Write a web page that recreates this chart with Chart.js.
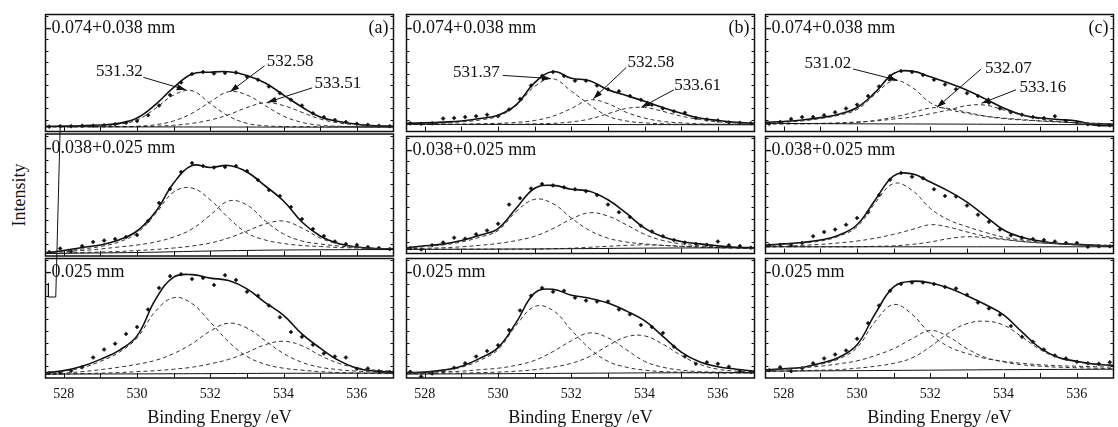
<!DOCTYPE html>
<html>
<head>
<meta charset="utf-8">
<script src="https://cdn.jsdelivr.net/npm/chart.js@4.4.1/dist/chart.umd.min.js"></script>
<style>
  body { margin: 0; background: #fff; width: 1118px; height: 427px; overflow: hidden; position: relative; }
  canvas { position: absolute; }
  #ylabel { position: absolute; left: 19px; top: 195px; transform: translate(-50%, -50%) rotate(-90deg);
    font: 18px "Liberation Serif", serif; color: #111; white-space: nowrap; }
</style>
</head>
<body>
<div id="ylabel">Intensity</div>
<script>
// energies shared by every panel
const curveEnergy = [527.5, 528, 528.5, 529, 529.5, 530, 530.5, 531, 531.5, 532, 532.5, 533, 533.5, 534, 534.5, 535, 535.5, 536, 536.5, 537];
const dotEnergy = [527.6, 527.9, 528.2, 528.5, 528.8, 529.1, 529.4, 529.7, 530.0, 530.3, 530.6, 530.9, 531.2, 531.5, 531.8, 532.1,
  532.4, 532.7, 533.0, 533.3, 533.6, 533.9, 534.2, 534.5, 534.8, 535.1, 535.4, 535.7, 536.0, 536.3, 536.6, 536.9];
const baseEnergy = [527.5, 530, 532, 534, 537];
const tickEnergies = [528, 530, 532, 534, 536];
const minorEnergies = [528, 529, 530, 531, 532, 533, 534, 535, 536];

const rowLabels = ['-0.074+0.038 mm', '-0.038+0.025 mm', '-0.025 mm'];
const panelLetters = ['(a)', '(b)', '(c)'];
const peakLabels = [['531.32', '532.58', '533.51'], ['531.37', '532.58', '533.61'], ['531.02', '532.07', '533.16']];

// (a) -0.074+0.038 mm
const aTopDots = [5, 5.5, 5.5, 6, 6, 6.5, 7.5, 9, 11, 17, 27, 38, 51, 60, 62, 60.5, 61, 61.5, 57, 54, 47, 40, 33, 27, 19, 15, 12, 10, 8, 7, 6, 5.5];
const aTopFit = [5.5, 5.6, 6, 6.8, 8.5, 14, 28, 46, 60, 61.8, 62.3, 58.5, 50.5, 38, 25.5, 15, 10.5, 7.5, 6, 5.5];
const aTopPeak1 = [5, 5, 5.2, 5.8, 7.5, 12, 24, 38, 42.5, 29, 16, 8.5, 6, 5.2, 5, 5, 5, 5, 5, 5];
const aTopPeak2 = [5, 5, 5, 5, 5, 5.5, 7, 11, 19, 31, 41.5, 38, 27, 16, 9.5, 6.5, 5.5, 5, 5, 5];
const aTopPeak3 = [5, 5, 5, 5, 5, 5, 5.5, 6.5, 8.5, 12, 17.5, 25, 30, 27, 20, 13, 9, 7, 6, 5.5];
const aTopBase = [5, 4.8, 4.7, 4.6, 4.5];

// (a) -0.038+0.025 mm
const aMidDots = [4, 7.5, 4.5, 10, 14, 15.5, 17, 19, 21, 35, 53, 67, 84, 93, 90, 88.5, 89, 90, 85, 76, 66, 60, 49, 37, 27, 20, 14.5, 12, 11, 9, 8, 7];
const aMidFit = [3, 5.5, 8.5, 11, 16, 25, 44, 73, 90.5, 88.5, 90.5, 84, 70, 55, 34, 20, 12.5, 9, 7.5, 7];
const aMidPeak1 = [3, 5, 7, 9.5, 14, 23, 42, 64, 68, 56, 38, 23, 16, 12.5, 10.5, 9.5, 8.5, 8, 7.5, 7];
const aMidPeak2 = [3, 4.5, 5.5, 7, 9, 11, 14, 19, 27, 41, 55, 51, 35, 22, 15, 12, 10, 8.5, 7.5, 7];
const aMidPeak3 = [2.5, 3, 3.5, 4, 4.5, 5.5, 6.5, 8, 10, 13, 18, 25, 32, 35, 28, 18, 12, 9, 7.5, 7];
const aMidBase = [2.5, 3.5, 5, 6, 6.5];
const strayEnergy = [527.58, 527.58, 527.78, 527.9];
const strayValues = [-27, -41, -41, 128];

// (a) -0.025 mm
const aBotDots = [5, 5.3, 7.3, 11, 21, 29, 35, 45, 52, 70, 92, 104, 106, 101, 102, 95, 105, 100, 88, 84, 74, 62, 47, 42, 34, 25, 22, 21, 9.5, 9.7, 7, 6];
const aBotFit = [5.3, 7.5, 12, 19, 28, 43, 80, 103, 105.5, 102, 99.5, 91, 77, 64, 45, 30.5, 18, 10, 7, 6];
const aBotPeak1 = [5, 7, 10.5, 17, 26, 41, 68, 82, 76, 57, 37, 22, 14, 10, 8, 6.5, 5.5, 5, 4.5, 4.5];
const aBotPeak2 = [4, 5, 6.5, 8.5, 11, 14, 18, 25, 35, 48, 56, 51, 38, 25, 16, 11, 8.5, 7, 6, 5.5];
const aBotPeak3 = [3.5, 4, 4.5, 5, 5.5, 6.5, 7.5, 9, 11, 14.5, 19, 26, 34, 37.5, 33, 23, 15, 10.5, 8, 7];
const aBotBase = [4, 4.2, 4.5, 4.8, 5];

// (b) -0.074+0.038 mm
const bTopDots = [8.5, 8, 8.5, 13.5, 14, 15, 16, 17.5, 16, 23, 34, 48, 58, 62, 58, 53, 53, 48, 44, 42, 37, 33, 28, 24, 21, 19.5, 14, 12.5, 11.5, 9.5, 9, 8.5];
const bTopFit = [8.5, 9, 9.8, 11, 13.5, 17, 28, 51, 62.5, 55.5, 53, 43.5, 37.5, 31.5, 25, 19, 14, 11.5, 9.5, 8.5];
const bTopPeak1 = [7.5, 8, 9, 10, 12, 16, 27, 47, 55, 42, 28, 16, 11, 9, 8, 7.5, 7.5, 7.5, 7.5, 7.5];
const bTopPeak2 = [7.5, 7.5, 7.5, 7.5, 8, 8.5, 9.5, 11.5, 16, 24, 33, 29, 20, 14, 10.5, 9, 8, 7.5, 7.5, 7.5];
const bTopPeak3 = [7.5, 7.5, 7.5, 7.5, 7.5, 7.5, 7.5, 8, 8.5, 10, 13, 18.5, 24, 25, 21, 16, 12.5, 10, 9, 8];
const bTopBase = [7.5, 7.4, 7.3, 7.2, 7];

// (b) -0.038+0.025 mm
const bMidDots = [5.5, 4.3, 8.7, 11.5, 16.5, 15.5, 20, 24, 31, 51, 57.7, 67.7, 72.5, 71, 69, 67, 65, 61, 51, 43, 38, 29, 23, 18, 14, 11.5, 10, 9, 12.5, 8.7, 7.7, 6];
const bMidFit = [6, 8, 9.8, 13.5, 19, 26, 47.5, 68, 71, 67, 65, 56, 42, 26.5, 17.5, 12.5, 10, 8, 6.5, 6];
const bMidPeak1 = [5.5, 7.5, 9, 12, 17, 24, 44, 56.5, 52, 37, 24, 16, 12, 10, 8.5, 7.5, 7, 6.5, 6, 5.5];
const bMidPeak2 = [5, 5.5, 6, 7, 8.5, 10.5, 13.5, 18, 26, 36, 42.5, 39, 30, 20, 13.5, 10, 8, 7, 6, 5.5];
const bMidPeak3 = [4.5, 4.5, 4.5, 4.5, 4.5, 4.5, 4.5, 4.5, 5, 5.5, 6.5, 7.5, 8.5, 9, 8.5, 7.5, 6.5, 6, 5.5, 5];
const bMidBase = [4.3, 4.6, 5, 5.6, 6];

// (b) -0.025 mm
const bBotDots = [6.3, 1.5, 4.7, 7, 10.5, 15, 22, 27.5, 33.5, 49, 69, 84, 92, 88, 89, 82, 79, 78, 78, 70, 65, 54, 52, 46, 32, 22, 14.5, 16, 14.5, 11.5, 7, 6];
const bBotFit = [5.3, 6, 8, 12, 20, 31, 57, 87, 90.5, 84.5, 81.5, 76.5, 68.5, 58.5, 42.5, 26.5, 16.5, 11.5, 9, 7];
const bBotPeak1 = [5, 6, 7.5, 11, 18, 29, 54, 73, 69, 49, 30, 17, 11, 8, 6.5, 6, 5.5, 5, 5, 5];
const bBotPeak2 = [5, 5.5, 6.3, 7, 8.5, 10, 13, 18, 27, 38, 46, 41, 29, 17, 11, 8, 6.5, 6, 5.5, 5];
const bBotPeak3 = [4.5, 4.5, 5, 5, 5.5, 6, 7, 8.5, 11, 15, 22, 33, 42, 43, 34.5, 23, 14, 9, 7, 6];
const bBotBase = [4, 4.4, 4.8, 5.2, 5.5];

// (c) -0.074+0.038 mm
const cTopDots = [8, 10, 13, 15, 15, 17, 20, 24, 28, 37, 47, 58, 63, 62, 59, 54, 49, 44, 40, 37, 30, 24, 20, 17.5, 15, 14, 16, 11, 9.5, 7.5, 7, 6.5];
const cTopFit = [9.5, 10.5, 12, 14.5, 18, 25, 41, 60.5, 63, 57, 50.5, 43, 34, 24.5, 17.5, 14, 12.5, 11, 6.5, 6];
const cTopPeak1 = [8, 9.5, 11, 13.5, 17, 23, 39, 53, 46, 30, 23, 19, 16, 14, 12.5, 11, 10, 9, 8.5, 8];
const cTopPeak2 = [8, 8, 8, 8.2, 8.5, 9.5, 11.5, 15, 19.5, 24.5, 24, 20, 16, 13.5, 12, 11, 10, 9, 8.5, 8];
const cTopPeak3 = [8, 8, 8.2, 8.5, 9, 10, 11, 13, 15, 18.5, 22.5, 27, 27.5, 22.5, 17, 13, 10.5, 9, 8.5, 8];
const cTopBase = [8.5, 8, 7.8, 7.5, 7];

// (c) -0.038+0.025 mm
const cMidDots = [8.5, 9, 8.7, 11, 18, 22.5, 25, 30, 37, 43, 61, 77, 84, 80, 78.5, 67, 60, 59.5, 50, 40.5, 33, 25, 19, 16.5, 15, 14, 12.5, 11, 11, 7, 7.5, 7.5];
const cMidFit = [8.7, 10, 11.5, 14, 19, 30, 56, 81, 83, 74.5, 65, 53.5, 39, 24.5, 17, 13, 10.5, 9.5, 8.5, 7.7];
const cMidPeak1 = [8, 9.5, 11, 13, 18, 28, 53, 73, 66, 47, 35, 28, 22, 17, 14, 12, 10.5, 9.5, 9, 8.5];
const cMidPeak2 = [7, 7.5, 8.5, 9.5, 11, 13, 16, 20, 25, 30, 27.5, 22.5, 18, 15, 12.5, 11, 10, 9, 8.5, 8];
const cMidPeak3 = [7, 7, 7, 7, 7, 7, 7.5, 8, 9.5, 12, 15.5, 17.5, 16.5, 14.5, 12.5, 11, 10, 9, 8.5, 8];
const cMidBase = [7, 7, 7, 7, 7];

// (c) -0.025 mm
const cBotDots = [8, 11, 7, 10, 15, 20, 24, 28, 40, 56, 74, 89, 96, 97.5, 97.5, 96, 93, 91.5, 85, 77, 71, 64.5, 53, 42, 37, 29, 23, 20, 16.5, 15, 14.5, 16];
const cBotFit = [8, 9.5, 10.8, 15, 21, 34, 66, 93, 98.7, 97, 92, 84, 75, 64.5, 47, 30.5, 21, 17, 14, 13];
const cBotPeak1 = [7.5, 9, 10.5, 14, 19.5, 31, 58, 75, 65, 45, 32, 25, 20, 17, 15, 13.5, 12.5, 12, 11.5, 11];
const cBotPeak2 = [8, 9, 10.5, 12, 14.5, 17.5, 23, 30, 40, 48.5, 42, 30, 21, 16.5, 13.5, 12, 11, 10.5, 10, 9.5];
const cBotPeak3 = [7, 7, 7.5, 8, 8.5, 10, 12, 15, 20.5, 32, 46, 55.5, 58, 54, 42, 29, 20.5, 16.5, 14.5, 13];
const cBotBase = [7, 7.5, 8, 8.5, 9];

// label / arrow placement for the top row, in energy / intensity units
const noteLayout = [
  [{tx: 529.52, ty: 62.5, x1: 530.17, y1: 56.5, x2: 531.33, y2: 43.5},
   {tx: 534.18, ty: 72.5, x1: 533.48, y1: 68.5, x2: 532.54, y2: 41.5},
   {tx: 535.48, ty: 49.5, x1: 534.78, y1: 45.5, x2: 533.56, y2: 30.5}],
  [{tx: 529.41, ty: 61.5, x1: 530.13, y1: 58.5, x2: 531.44, y2: 55.2},
   {tx: 534.17, ty: 71.5, x1: 533.5, y1: 66.8, x2: 532.6, y2: 34.2},
   {tx: 535.45, ty: 47.5, x1: 534.8, y1: 43.5, x2: 533.91, y2: 25.2}],
  [{tx: 529.2, ty: 70.5, x1: 529.89, y1: 65.2, x2: 531.1, y2: 53.5},
   {tx: 534.13, ty: 65.5, x1: 533.39, y1: 65.2, x2: 532.18, y2: 25.2},
   {tx: 535.07, ty: 45.5, x1: 534.34, y1: 43.5, x2: 533.4, y2: 29.5}]
];

const panels = [
  {col: 0, row: 0, dots: aTopDots, fit: aTopFit, peaks: [aTopPeak1, aTopPeak2, aTopPeak3], base: aTopBase},
  {col: 0, row: 1, dots: aMidDots, fit: aMidFit, peaks: [aMidPeak1, aMidPeak2, aMidPeak3], base: aMidBase, stray: true},
  {col: 0, row: 2, dots: aBotDots, fit: aBotFit, peaks: [aBotPeak1, aBotPeak2, aBotPeak3], base: aBotBase},
  {col: 1, row: 0, dots: bTopDots, fit: bTopFit, peaks: [bTopPeak1, bTopPeak2, bTopPeak3], base: bTopBase},
  {col: 1, row: 1, dots: bMidDots, fit: bMidFit, peaks: [bMidPeak1, bMidPeak2, bMidPeak3], base: bMidBase},
  {col: 1, row: 2, dots: bBotDots, fit: bBotFit, peaks: [bBotPeak1, bBotPeak2, bBotPeak3], base: bBotBase},
  {col: 2, row: 0, dots: cTopDots, fit: cTopFit, peaks: [cTopPeak1, cTopPeak2, cTopPeak3], base: cTopBase},
  {col: 2, row: 1, dots: cMidDots, fit: cMidFit, peaks: [cMidPeak1, cMidPeak2, cMidPeak3], base: cMidBase},
  {col: 2, row: 2, dots: cBotDots, fit: cBotFit, peaks: [cBotPeak1, cBotPeak2, cBotPeak3], base: cBotBase}
];

const colLeft = [43, 404, 763];
const rowTop = [12, 134, 256];
const panelW = 353, panelH = 122, axisH = 49;
const ink = '#111';

Chart.defaults.font.family = '"Liberation Serif", serif';
Chart.defaults.color = ink;

const pts = (xs, ys) => xs.map((x, i) => ({x: x, y: ys[i]}));

function arrow(ctx, x1, y1, x2, y2) {
  ctx.beginPath();
  ctx.moveTo(x1, y1);
  ctx.lineTo(x2, y2);
  ctx.stroke();
  const ang = Math.atan2(y2 - y1, x2 - x1), L = 9, W = 3;
  const bx = x2 - L * Math.cos(ang), by = y2 - L * Math.sin(ang);
  ctx.beginPath();
  ctx.moveTo(x2, y2);
  ctx.lineTo(bx + W * Math.sin(ang), by - W * Math.cos(ang));
  ctx.lineTo(bx - W * Math.sin(ang), by + W * Math.cos(ang));
  ctx.closePath();
  ctx.fill();
}

const framePlugin = {
  id: 'frame',
  afterDraw(chart, args, opts) {
    const {ctx, chartArea: a, scales: {x, y}} = chart;
    ctx.save();
    ctx.strokeStyle = ink;
    ctx.fillStyle = ink;
    ctx.lineWidth = 1.5;
    ctx.strokeRect(a.left, a.top, a.right - a.left, a.bottom - a.top);
    ctx.lineWidth = 1;
    ctx.beginPath();
    minorEnergies.forEach(v => {
      const px = Math.round(x.getPixelForValue(v)) + 0.5;
      ctx.moveTo(px, a.bottom);
      ctx.lineTo(px, a.bottom - 5);
    });
    for (let v = 12; v < 122; v += 12) {
      const py = Math.round(y.getPixelForValue(v)) + 0.5;
      ctx.moveTo(a.left, py); ctx.lineTo(a.left + 3, py);
      ctx.moveTo(a.right, py); ctx.lineTo(a.right - 3, py);
    }
    ctx.stroke();

    ctx.font = '18px "Liberation Serif"';
    ctx.textBaseline = 'middle';
    ctx.textAlign = 'left';
    ctx.fillText(opts.label, a.left, a.top + 14);
    if (opts.letter) {
      ctx.textAlign = 'right';
      ctx.fillText(opts.letter, a.right - 5, a.top + 14);
    }
    if (opts.notes) {
      ctx.font = '17px "Liberation Serif"';
      ctx.textAlign = 'center';
      opts.notes.forEach((n, i) => {
        const l = opts.layout[i];
        ctx.fillText(n, x.getPixelForValue(l.tx), y.getPixelForValue(l.ty));
        arrow(ctx, x.getPixelForValue(l.x1), y.getPixelForValue(l.y1), x.getPixelForValue(l.x2), y.getPixelForValue(l.y2));
      });
    }
    ctx.restore();
  }
};

panels.forEach(p => {
  const bottomRow = p.row === 2;
  const pad = {left: 2, right: 2, top: 2, bottom: bottomRow ? 0 : 2};
  if (p.stray) { pad.top = 16; pad.bottom = 46; }
  const canvas = document.createElement('canvas');
  canvas.width = panelW + pad.left + pad.right;
  canvas.height = pad.top + panelH + (bottomRow ? axisH : pad.bottom);
  canvas.style.left = (colLeft[p.col] - pad.left) + 'px';
  canvas.style.top = (rowTop[p.row] - pad.top) + 'px';
  document.body.appendChild(canvas);

  const datasets = [
    {data: pts(baseEnergy, p.base), borderColor: ink, borderWidth: 1, pointRadius: 0, tension: 0.3}
  ];
  p.peaks.forEach(pk => datasets.push({
    data: pts(curveEnergy, pk), borderColor: '#333', borderWidth: 1, borderDash: [4, 3], pointRadius: 0, tension: 0.4
  }));
  datasets.push({data: pts(curveEnergy, p.fit), borderColor: ink, borderWidth: 1.6, pointRadius: 0, tension: 0.4});
  datasets.push({data: pts(dotEnergy, p.dots), showLine: false, pointStyle: 'rectRot', pointRadius: 2,
    pointBackgroundColor: ink, pointBorderColor: ink, pointBorderWidth: 0.5});
  if (p.stray) {
    datasets.push({data: pts(strayEnergy, strayValues), borderColor: ink, borderWidth: 1, pointRadius: 0, clip: false});
  }

  new Chart(canvas, {
    type: 'line',
    data: {datasets: datasets},
    options: {
      responsive: false,
      animation: false,
      devicePixelRatio: 1,
      events: [],
      layout: {padding: pad},
      plugins: {
        legend: {display: false},
        tooltip: {enabled: false},
        frame: {
          label: rowLabels[p.row],
          letter: p.row === 0 ? panelLetters[p.col] : null,
          notes: p.row === 0 ? peakLabels[p.col] : null,
          layout: noteLayout[p.col]
        }
      },
      scales: {
        x: {
          type: 'linear', min: 527.5, max: 537, display: bottomRow,
          grid: {display: false, drawTicks: false},
          border: {display: false},
          ticks: {font: {size: 14}, color: ink, padding: 8, maxRotation: 0},
          title: {display: true, text: 'Binding Energy /eV', font: {size: 18, lineHeight: 1}, color: ink, padding: 0},
          afterBuildTicks: s => { s.ticks = tickEnergies.map(v => ({value: v})); },
          afterFit: s => { if (bottomRow) s.height = axisH; }
        },
        y: {type: 'linear', min: 0, max: 122, display: false}
      }
    },
    plugins: [framePlugin]
  });
});
</script>
</body>
</html>
